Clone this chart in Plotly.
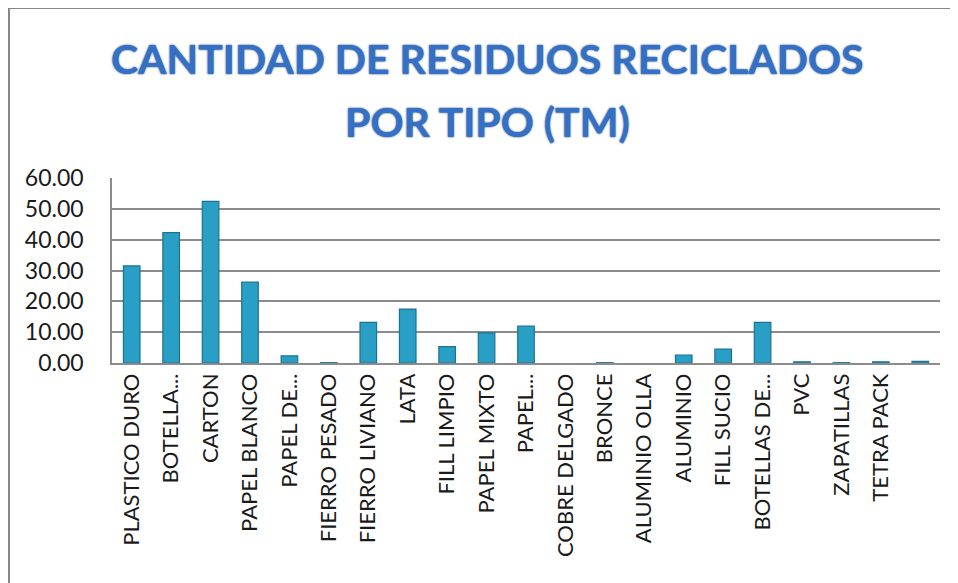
import plotly.graph_objects as go

categories = ["PLASTICO DURO", "BOTELLA...", "CARTON", "PAPEL BLANCO", "PAPEL DE...",
              "FIERRO PESADO", "FIERRO LIVIANO", "LATA", "FILL LIMPIO", "PAPEL MIXTO",
              "PAPEL...", "COBRE DELGADO", "BRONCE", "ALUMINIO OLLA", "ALUMINIO",
              "FILL SUCIO", "BOTELLAS DE...", "PVC", "ZAPATILLAS", "TETRA PACK", " "]
values = [31.5, 42.3, 52.4, 26.2, 2.3,
          0.1, 13.2, 17.5, 5.3, 9.8,
          12.0, 0.0, 0.1, 0.0, 2.6,
          4.5, 13.2, 0.4, 0.1, 0.4, 0.5]
y_ticks = [0, 10, 20, 30, 40, 50, 60]
y_tick_labels = ["0.00", "10.00", "20.00", "30.00", "40.00", "50.00", "60.00"]
title_lines = ["CANTIDAD DE RESIDUOS RECICLADOS", "POR TIPO (TM)"]

OFF = 8  # page body margin offset
W, H = 958, 583
L, R, T, B = 112 - OFF, 958 - 940 + OFF, 178 - OFF, 583 - 363 + OFF
pw, ph = W - L - R, H - T - B

def px(x):
    return (x - OFF - L) / pw

def py(y):
    return (H - B - (y - OFF)) / ph

line_widths = [1.2 if v > 0 else 0 for v in values]

fig = go.Figure()
fig.add_trace(go.Bar(
    x=categories, y=values,
    marker=dict(color="#2a9fc6", line=dict(color="#1b7391", width=line_widths)),
    width=0.42,
))

fig.update_layout(
    width=W, height=H,
    margin=dict(l=L, r=R, t=T, b=B, autoexpand=False),
    paper_bgcolor="white", plot_bgcolor="white",
    showlegend=False,
    font=dict(family="Lato, Open Sans, sans-serif", color="#1a1a1a"),
    xaxis=dict(
        type="category", tickangle=-90, showgrid=False, automargin=False,
        tickfont=dict(size=22, family="Lato, Open Sans, sans-serif", color="#1a1a1a"),
        showline=True, linecolor="#8c8c8c", linewidth=1.5, ticks="",
    ),
    yaxis=dict(
        range=[0, 60], tickvals=y_ticks, ticktext=y_tick_labels, automargin=False,
        showgrid=True, gridcolor="#8c8c8c", gridwidth=1.5,
        showline=True, linecolor="#8c8c8c", linewidth=1.5, ticks="",
        tickfont=dict(size=23, family="Lato, Open Sans, sans-serif", color="#1a1a1a"),
        ticklabelstandoff=22, zeroline=False,
    ),
)

fig.add_shape(type="rect", xref="paper", yref="paper",
              x0=px(8.5), x1=px(1000), y0=py(640), y1=py(7.5),
              line=dict(color="#878787", width=3), fillcolor="rgba(0,0,0,0)", layer="above")

for txt, yc in zip(title_lines, [59, 121]):
    fig.add_annotation(
        text=txt, xref="paper", yref="paper", x=px(487), y=py(yc),
        xanchor="center", yanchor="middle", showarrow=False,
        font=dict(size=41, family="Lato, Open Sans, sans-serif", weight="bold",
                  color="#3470c4", shadow="0px 0px 2px #0f3478"),
    )

fig.write_html("out.html")
